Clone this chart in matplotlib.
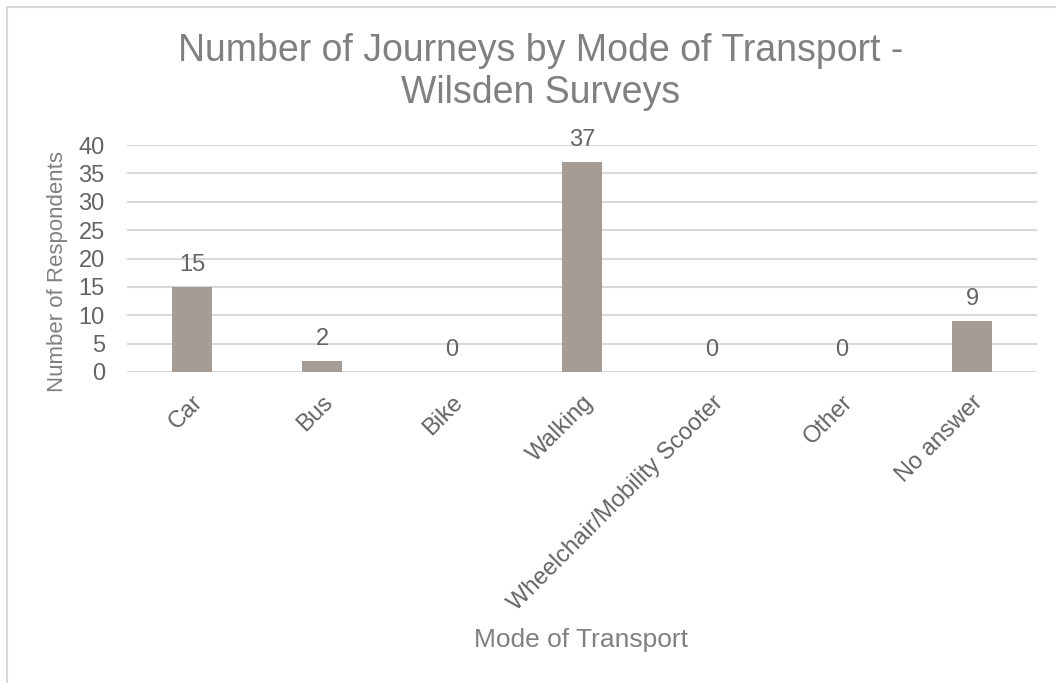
#!/usr/bin/env python3
# Bar chart: journeys by mode of transport, Wilsden surveys

import matplotlib
matplotlib.use("Agg")
import matplotlib.pyplot as plt
from matplotlib.patches import Rectangle

modes = ["Car", "Bus", "Bike", "Walking", "Wheelchair/Mobility Scooter", "Other", "No answer"]
journeys = [15, 2, 0, 37, 0, 0, 9]
y_ticks = [0, 5, 10, 15, 20, 25, 30, 35, 40]

BAR = "#A59D95"
GRID = "#D9D9D9"
TEXT = "#646464"
TITLE = "#808080"

plt.rcParams["font.family"] = ["Liberation Sans", "DejaVu Sans"]

W, H = 1056, 683
fig = plt.figure(figsize=(W / 100, H / 100), dpi=100)

# chart frame (top and left edges visible, rest runs off the canvas)
fig.patches.append(Rectangle((7 / W, -0.1), 1.2, 1 - 7 / H + 0.1, transform=fig.transFigure,
                             fill=False, edgecolor=GRID, linewidth=1.5))

ax = fig.add_axes([127 / W, 1 - 372 / H, (1037 - 127) / W, (372 - 145) / H])
x = range(len(modes))
bars = ax.bar(x, journeys, width=0.315, color=BAR, zorder=3)
ax.bar_label(bars, labels=[str(v) for v in journeys], padding=8, fontsize=17, color=TEXT)

ax.set_xlim(-0.5, len(modes) - 0.5)
ax.set_ylim(0, 40)
ax.set_yticks(y_ticks)
ax.set_yticklabels([str(t) for t in y_ticks], fontsize=17, color=TEXT)
ax.set_xticks(list(x))
ax.set_xticklabels(modes, fontsize=17, color=TEXT, rotation=45, ha="right",
                   rotation_mode="anchor")
ax.tick_params(axis="both", length=0)
ax.tick_params(axis="y", pad=16)
ax.tick_params(axis="x", pad=14)
ax.yaxis.grid(True, color=GRID, linewidth=1.5, zorder=0)
ax.set_axisbelow(True)
for s in ax.spines.values():
    s.set_visible(False)

fig.text(541 / W, 1 - 72 / H, "Number of Journeys by Mode of Transport -\nWilsden Surveys",
         ha="center", va="center", fontsize=27, color=TITLE, linespacing=1.2)
fig.text(581 / W, 1 - 640 / H, "Mode of Transport", ha="center", va="center",
         fontsize=19, color=TITLE)
fig.text(57 / W, 1 - 272 / H, "Number of Respondents", ha="center", va="center",
         rotation=90, fontsize=16, color=TITLE)

fig.savefig("out.png", dpi=100)
